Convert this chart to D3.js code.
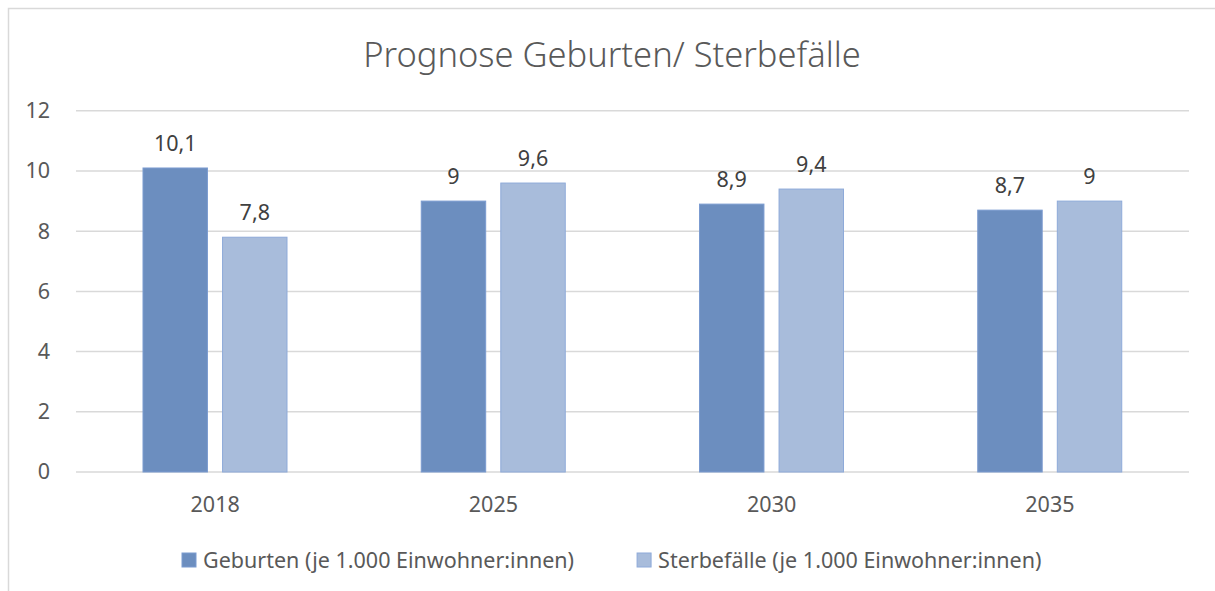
<!DOCTYPE html>
<html>
<head>
<meta charset="utf-8">
<script src="https://cdn.jsdelivr.net/npm/d3@7"></script>
<style>
  body { margin: 0; background: #fff; }
  svg { display: block; font-family: "Noto Sans", sans-serif; }
</style>
</head>
<body>
<svg width="1215" height="591"></svg>
<script>
const years = ["2018", "2025", "2030", "2035"];
const seriesNames = ["Geburten (je 1.000 Einwohner:innen)", "Sterbefälle (je 1.000 Einwohner:innen)"];
const geburten = [10.1, 9, 8.9, 8.7];
const sterbefaelle = [7.8, 9.6, 9.4, 9];
const yTicks = [0, 2, 4, 6, 8, 10, 12];
const title = "Prognose Geburten/ Sterbefälle";

const fills = ["#6c8ebf", "#a8bcdb"];
const strokes = ["#7b9bd0", "#8eaad9"];
const labelSize = "21.5px";

const svg = d3.select("svg");
const margin = {top: 110.8, left: 76, right: 1189, bottom: 472};

// chart frame
svg.append("rect")
  .attr("x", 8.5).attr("y", 8.5)
  .attr("width", 1230).attr("height", 600)
  .attr("fill", "none")
  .attr("stroke", "#d9d9d9")
  .attr("stroke-width", 1.5);

svg.append("text")
  .attr("x", 612)
  .attr("y", 67)
  .attr("text-anchor", "middle")
  .attr("font-size", "34.5px")
  .attr("font-weight", 300)
  .attr("fill", "#595959")
  .text(title);

const y = d3.scaleLinear().domain([0, 12]).range([margin.bottom, margin.top]);
const x0 = d3.scaleBand().domain(years).range([margin.left, margin.right]);
const bw = x0.bandwidth();
const x1 = d3.scaleBand().domain([0, 1])
  .range([bw * 0.2408, bw * 0.7583])
  .paddingInner(0.19);

// gridlines
svg.append("g").selectAll("line").data(yTicks).enter().append("line")
  .attr("x1", margin.left).attr("x2", margin.right)
  .attr("y1", d => y(d)).attr("y2", d => y(d))
  .attr("stroke", "#d9d9d9")
  .attr("stroke-width", 1.5);

// y axis labels
const yAxis = d3.axisLeft(y).tickValues(yTicks).tickSize(0).tickPadding(0);
const gy = svg.append("g").attr("transform", "translate(50,0)").call(yAxis);
gy.select(".domain").remove();
gy.selectAll("text").attr("font-size", labelSize).attr("fill", "#595959")
  .attr("font-family", "Noto Sans");

// x axis labels
const xAxis = d3.axisBottom(x0).tickSize(0).tickPadding(0);
const gx = svg.append("g").attr("transform", `translate(0,${margin.bottom + 25})`).call(xAxis);
gx.select(".domain").remove();
gx.selectAll("text").attr("font-size", labelSize).attr("fill", "#595959")
  .attr("font-family", "Noto Sans");

const data = years.map((yr, i) => ({year: yr, values: [geburten[i], sterbefaelle[i]]}));

const groups = svg.append("g").selectAll("g").data(data).enter().append("g")
  .attr("transform", d => `translate(${x0(d.year)},0)`);

groups.selectAll("rect").data(d => d.values.map((v, s) => ({v, s}))).enter().append("rect")
  .attr("x", d => x1(d.s))
  .attr("y", d => y(d.v))
  .attr("width", x1.bandwidth())
  .attr("height", d => y(0) - y(d.v))
  .attr("fill", d => fills[d.s])
  .attr("stroke", d => strokes[d.s])
  .attr("stroke-width", 1);

const fmt = v => String(v).replace(".", ",");
groups.selectAll("text").data(d => d.values.map((v, s) => ({v, s}))).enter().append("text")
  .attr("x", d => x1(d.s) + x1.bandwidth() / 2)
  .attr("y", d => y(d.v) - 17)
  .attr("text-anchor", "middle")
  .attr("font-size", labelSize)
  .attr("fill", "#404040")
  .text(d => fmt(d.v));

// legend
const legend = svg.append("g");
let lx = 182;
seriesNames.forEach((name, i) => {
  legend.append("rect")
    .attr("x", lx).attr("y", 553)
    .attr("width", 14).attr("height", 14)
    .attr("fill", fills[i])
    .attr("stroke", strokes[i]);
  const t = legend.append("text")
    .attr("x", lx + 21).attr("y", 568)
    .attr("font-size", labelSize)
    .attr("fill", "#595959")
    .text(name);
  lx += 21 + t.node().getComputedTextLength() + 63;
});
</script>
</body>
</html>
